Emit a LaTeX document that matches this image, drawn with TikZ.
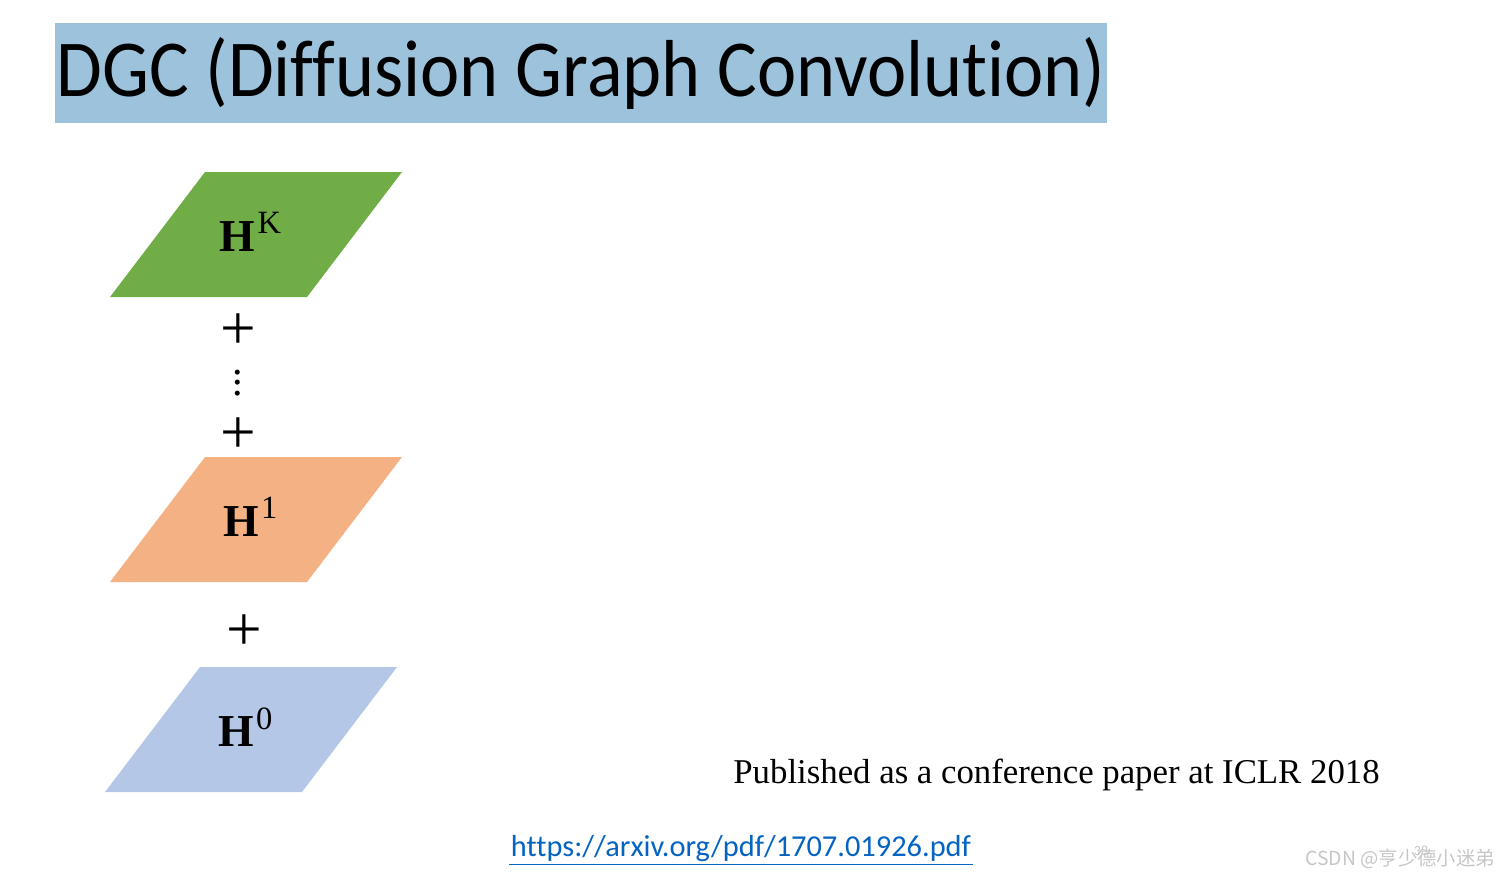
\documentclass[tikz,border=0pt]{standalone}
\usepackage{fontspec}
\setmainfont{Liberation Serif}
\newfontfamily\calibri[Ligatures=NoCommon]{Carlito}
\newfontfamily\cjk{Noto Sans CJK SC}
\usetikzlibrary{positioning}
\tikzset{%
  sym/.style={font=\fontsize{36}{36}\selectfont,inner sep=0pt},
  hnode/.style={inner sep=0pt},
}
\definecolor{titleblue}{HTML}{9DC3DC}
\definecolor{hgreen}{HTML}{70AD47}
\definecolor{horange}{HTML}{F4B183}
\definecolor{hblue}{HTML}{B4C7E7}
\definecolor{linkblue}{HTML}{0563C1}
\newcommand\hlab[1]{{\fontsize{26}{26}\selectfont\bfseries H}\kern1.5pt%
  \raisebox{10pt}{\fontsize{18.5}{18.5}\selectfont #1}\kern6.5pt}

\begin{document}
\begin{tikzpicture}[x=0.02cm,y=-0.02cm]
    \useasboundingbox (0,0) rectangle (1511,876);

    % title bar
    \node[fill=titleblue,minimum width=21.04cm,minimum height=2cm,inner sep=0pt]
      (title) at (581,73) {\raisebox{-0.22cm}{\scalebox{0.92}[1]{\calibri\fontsize{46}{46}\selectfont DGC (Diffusion Graph Convolution)}}};

    % diffusion steps
    \foreach \name/\cx/\cy/\col/\lab in {hk/256/232/hgreen/K,h1/256/517/horange/1,h0/251/727/hblue/0} {
      \fill[\col] (\cx-146,\cy+65) -- ++(197,0) -- ++(95,-125) -- ++(-197,0) -- cycle;
      \node[hnode] (\name) at (\cx,\cy) {\hlab{\lab}};
    }

    \node[sym] (plusk) at (238,332) {+};
    \node[inner sep=0pt] (dots) at (238,383)
      {\fontsize{24}{24}\selectfont\vbox{\baselineskip=6.2pt\lineskiplimit=-20pt\hbox{.}\hbox{.}\hbox{.}}};
    \node[sym] (plus1) at (238,436) {+};
    \node[sym] (plus0) at (244,633) {+};

    % reference
    \node[anchor=base,inner sep=0pt] (pub) at (1056.5,783)
      {\fontsize{19.8}{19.8}\selectfont Published as a conference paper at ICLR 2018};
    \node[text=linkblue,inner sep=1pt] (url) at (741,849)
      {\calibri\fontsize{17.3}{17.3}\selectfont https://arxiv.org/pdf/1707.01926.pdf};
    \draw[linkblue,line width=0.8pt] (url.south west) -- (url.south east);

    \node[text=gray!45,anchor=base east,inner sep=0pt] (mark) at (1495,865)
      {\cjk\fontsize{11}{11}\selectfont CSDN @亨少德小迷弟};
    \node[text=gray!45,inner sep=0pt] (page) at (1421,851) {\calibri\fontsize{8}{8}\selectfont 38};
\end{tikzpicture}
\end{document}
